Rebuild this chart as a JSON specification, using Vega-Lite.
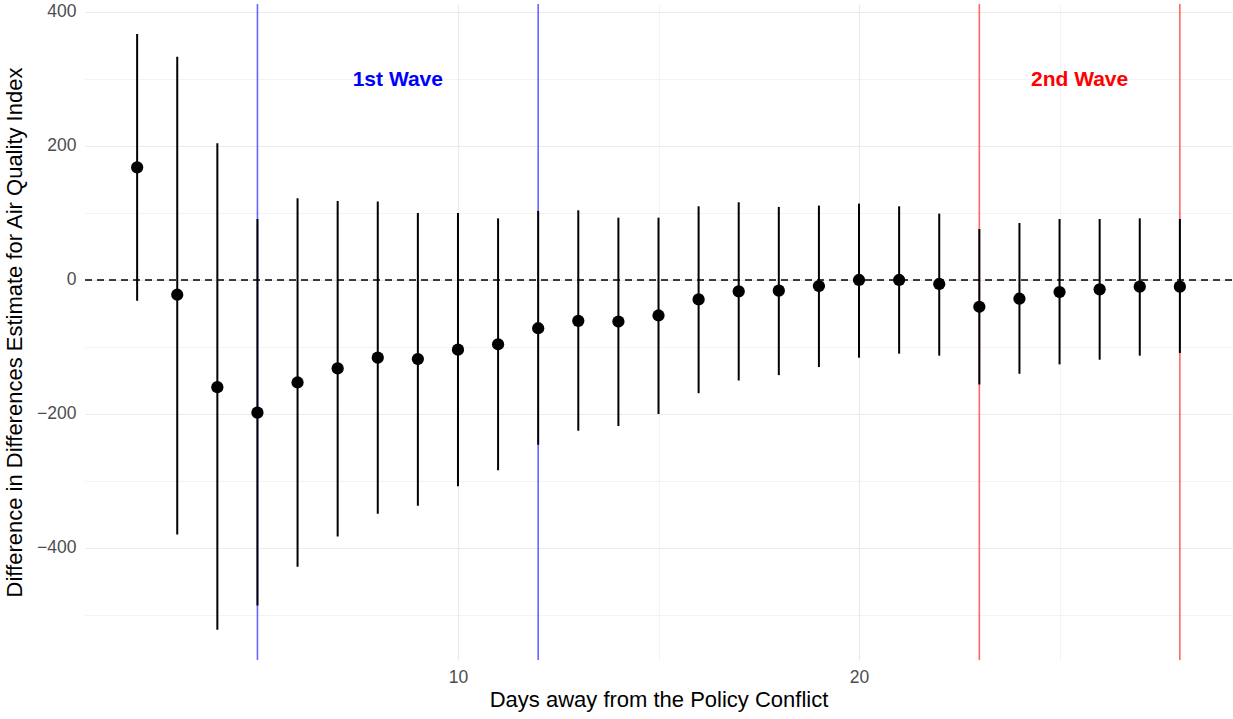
{
  "$schema": "https://vega.github.io/schema/vega-lite/v6.json",
  "width": 1147,
  "height": 656,
  "autosize": {"type": "none"},
  "padding": {"left": 85, "top": 4, "right": 1, "bottom": 59},
  "background": "white",
  "config": {
    "view": {"stroke": null},
    "font": "Liberation Sans",
    "axis": {"domain": false, "ticks": false, "tickSize": 0, "gridColor": "#ebebeb", "labelColor": "#4d4d4d", "labelFont": "Liberation Sans", "titleFont": "Liberation Sans", "titleFontWeight": "normal", "titleColor": "#000000"}
  },
  "datasets": {
    "est": [
      {"day": 2, "est": 168, "lo": -31, "hi": 367},
      {"day": 3, "est": -22, "lo": -380, "hi": 333},
      {"day": 4, "est": -160, "lo": -522, "hi": 204},
      {"day": 5, "est": -198, "lo": -486, "hi": 91},
      {"day": 6, "est": -153, "lo": -428, "hi": 122},
      {"day": 7, "est": -132, "lo": -383, "hi": 118},
      {"day": 8, "est": -116, "lo": -349, "hi": 117},
      {"day": 9, "est": -118, "lo": -337, "hi": 100},
      {"day": 10, "est": -104, "lo": -308, "hi": 100},
      {"day": 11, "est": -96, "lo": -284, "hi": 92},
      {"day": 12, "est": -72, "lo": -246, "hi": 103},
      {"day": 13, "est": -61, "lo": -225, "hi": 104},
      {"day": 14, "est": -62, "lo": -218, "hi": 93},
      {"day": 15, "est": -53, "lo": -200, "hi": 93},
      {"day": 16, "est": -29, "lo": -169, "hi": 110},
      {"day": 17, "est": -17, "lo": -150, "hi": 116},
      {"day": 18, "est": -16, "lo": -142, "hi": 109},
      {"day": 19, "est": -9, "lo": -130, "hi": 111},
      {"day": 20, "est": 0, "lo": -116, "hi": 114},
      {"day": 21, "est": 0, "lo": -110, "hi": 110},
      {"day": 22, "est": -6, "lo": -113, "hi": 99},
      {"day": 23, "est": -40, "lo": -156, "hi": 76},
      {"day": 24, "est": -28, "lo": -140, "hi": 85},
      {"day": 25, "est": -18, "lo": -126, "hi": 91},
      {"day": 26, "est": -14, "lo": -119, "hi": 91},
      {"day": 27, "est": -10, "lo": -113, "hi": 92},
      {"day": 28, "est": -10, "lo": -109, "hi": 91}
    ],
    "waves": [
      {"day": 5, "wave": "1st"},
      {"day": 12, "wave": "1st"},
      {"day": 23, "wave": "2nd"},
      {"day": 28, "wave": "2nd"}
    ],
    "labels": [
      {"day": 8.5, "y": 298, "text": "1st Wave", "wave": "1st"},
      {"day": 25.5, "y": 298, "text": "2nd Wave", "wave": "2nd"}
    ]
  },
  "layer": [
    {
      "data": {"name": "est"},
      "mark": {"type": "rule", "opacity": 0},
      "encoding": {
        "x": {
          "field": "day", "type": "quantitative",
          "scale": {"domain": [0.7, 29.3], "nice": false, "zero": false},
          "axis": {
            "title": "Days away from the Policy Conflict",
            "values": [5, 10, 15, 20, 25],
            "labelExpr": "datum.value % 10 === 0 ? datum.label : ''",
            "gridWidth": {"condition": {"test": "datum.value % 10 === 0", "value": 1.2}, "value": 0.6},
            "labelFontSize": 17.5, "labelPadding": 8,
            "titleFontSize": 22, "titlePadding": 4
          }
        },
        "y": {
          "field": "est", "type": "quantitative",
          "scale": {"domain": [-567.2, 411.9], "nice": false, "zero": false},
          "axis": {
            "title": "Difference in Differences Estimate for Air Quality Index",
            "values": [-500, -400, -300, -200, -100, 0, 100, 200, 300, 400],
            "labelExpr": "datum.value % 200 === 0 ? datum.label : ''",
            "gridWidth": {"condition": {"test": "datum.value % 200 === 0", "value": 1.2}, "value": 0.6},
            "labelFontSize": 17.5, "labelPadding": 9,
            "titleFontSize": 22, "titlePadding": 10
          }
        }
      }
    },
    {
      "data": {"name": "waves"},
      "mark": {"type": "rule", "strokeWidth": 1.6},
      "encoding": {
        "x": {"field": "day", "type": "quantitative"},
        "color": {"field": "wave", "type": "nominal", "scale": {"domain": ["1st", "2nd"], "range": ["#6666ff", "#ff6666"]}, "legend": null}
      }
    },
    {
      "data": {"values": [{"y": 0}]},
      "mark": {"type": "rule", "color": "black", "strokeWidth": 1.6, "strokeDash": [7, 5]},
      "encoding": {"y": {"field": "y", "type": "quantitative"}}
    },
    {
      "data": {"name": "est"},
      "mark": {"type": "rule", "color": "black", "strokeWidth": 2},
      "encoding": {
        "x": {"field": "day", "type": "quantitative"},
        "y": {"field": "lo", "type": "quantitative"},
        "y2": {"field": "hi"}
      }
    },
    {
      "data": {"name": "est"},
      "mark": {"type": "point", "filled": true, "color": "black", "opacity": 1, "size": 150},
      "encoding": {
        "x": {"field": "day", "type": "quantitative"},
        "y": {"field": "est", "type": "quantitative"}
      }
    },
    {
      "data": {"name": "labels"},
      "mark": {"type": "text", "fontWeight": "bold", "fontSize": 21, "font": "Liberation Sans", "align": "center", "baseline": "middle"},
      "encoding": {
        "x": {"field": "day", "type": "quantitative"},
        "y": {"field": "y", "type": "quantitative"},
        "text": {"field": "text"},
        "color": {"field": "wave", "type": "nominal", "scale": {"domain": ["1st", "2nd"], "range": ["#0000ff", "#ff0000"]}, "legend": null}
      }
    }
  ],
  "resolve": {"scale": {"color": "independent"}}
}
